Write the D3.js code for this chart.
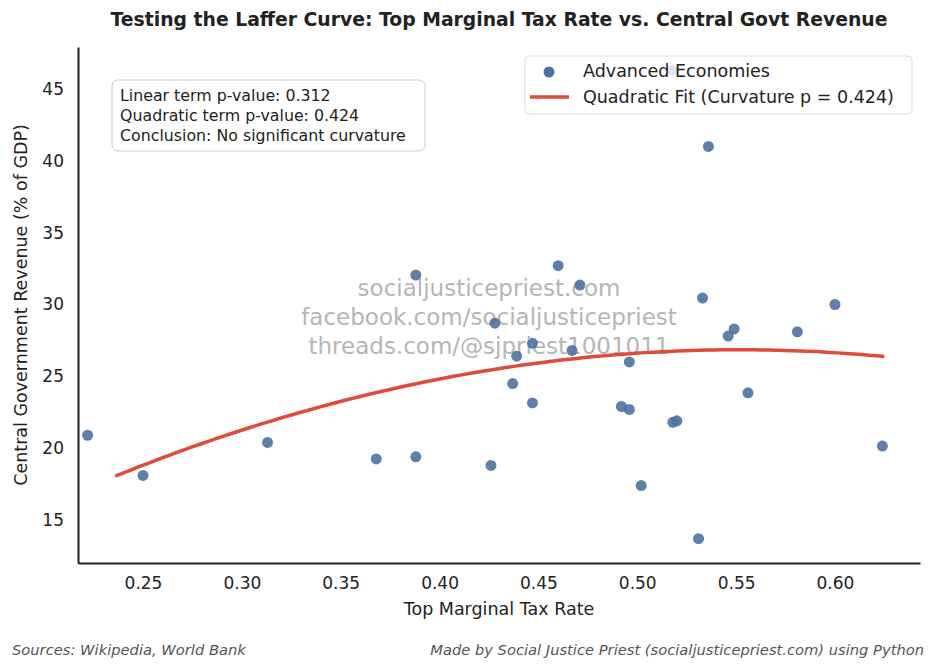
<!DOCTYPE html>
<html><head><meta charset="utf-8">
<script src="https://cdn.jsdelivr.net/npm/d3@7"></script>
<style>body{margin:0;background:#fff;font-family:"DejaVu Sans",sans-serif}</style>
</head><body>
<div id="chart"></div>
<script>
const taxRate = [0.222,0.250,0.313,0.368,0.388,0.388,0.426,0.428,0.437,0.439,0.447,0.447,0.460,0.467,0.471,0.492,0.496,0.496,0.502,0.518,0.520,0.518,0.531,0.533,0.536,0.546,0.549,0.556,0.581,0.600,0.624];
const revenue = [20.9,18.1,20.4,19.25,19.4,32.05,18.8,28.7,24.5,26.4,27.3,23.15,32.7,26.8,31.35,22.9,22.7,26.0,17.4,21.8,21.9,46.3,13.7,30.45,41.0,27.8,28.3,23.85,28.1,30.0,20.15];
const xTicks = [0.25,0.30,0.35,0.40,0.45,0.50,0.55,0.60];
const yTicks = [15,20,25,30,35,40,45];
// quadratic fit (vertex form)
const fitA = -88.1, fitH = 0.552, fitK = 26.85, fitRange = [0.236, 0.625];

const width = 936, height = 670;
const m = {left: 78, right: 920, top: 47, bottom: 563};
const svg = d3.select("#chart").append("svg").attr("width", width).attr("height", height);

const x = d3.scaleLinear().domain([0.25 - 65/1977, 0.25 + 777/1977]).range([m.left, m.right]);
const y = d3.scaleLinear().domain([15 - 43/14.37, 45 + 42/14.37]).range([m.bottom, m.top]);

svg.append("text").attr("x", 499).attr("y", 26).attr("text-anchor", "middle")
  .style("font-size", "18.8px").style("font-weight", "bold").attr("fill", "#222")
  .text("Testing the Laffer Curve: Top Marginal Tax Rate vs. Central Govt Revenue");

const xAxis = svg.append("g").attr("transform", `translate(0,${m.bottom})`)
  .call(d3.axisBottom(x).tickValues(xTicks).tickFormat(d3.format(".2f")).tickSize(0).tickPadding(14));
const yAxis = svg.append("g").attr("transform", `translate(${m.left},0)`)
  .call(d3.axisLeft(y).tickValues(yTicks).tickSize(0).tickPadding(14));
[xAxis, yAxis].forEach(a => {
  a.selectAll("text").style("font-size", "17px").attr("fill", "#222").style("font-family", "DejaVu Sans");
  a.select(".domain").attr("stroke", "#222").attr("stroke-width", 2);
});

svg.append("text").attr("x", (m.left + m.right)/2).attr("y", 615).attr("text-anchor", "middle")
  .style("font-size", "17.5px").attr("fill", "#222").text("Top Marginal Tax Rate");
svg.append("text").attr("transform", `translate(27,${(m.top + m.bottom)/2}) rotate(-90)`)
  .attr("text-anchor", "middle").style("font-size", "17.5px").attr("fill", "#222")
  .text("Central Government Revenue (% of GDP)");

// watermark
["socialjusticepriest.com","facebook.com/socialjusticepriest","threads.com/@sjpriest1001011"].forEach((t, i) => {
  svg.append("text").attr("x", 489).attr("y", 296 + i*29).attr("text-anchor", "middle")
    .style("font-size", "23px").attr("fill", "#b5b5b5").text(t);
});

// points
svg.append("g").selectAll("circle").data(taxRate).join("circle")
  .attr("cx", d => x(d)).attr("cy", (d, i) => y(revenue[i])).attr("r", 5.5)
  .attr("fill", "#4c72a0").attr("opacity", 0.9);

// fit curve
const fitX = d3.range(0, 101).map(i => fitRange[0] + (fitRange[1] - fitRange[0]) * i / 100);
svg.append("path").datum(fitX)
  .attr("d", d3.line().x(d => x(d)).y(d => y(fitA * (d - fitH) ** 2 + fitK)))
  .attr("fill", "none").attr("stroke", "#e04a3a").attr("stroke-width", 3.5);

// stats box
svg.append("rect").attr("x", 112).attr("y", 80).attr("width", 313).attr("height", 71).attr("rx", 6)
  .attr("fill", "#fff").attr("fill-opacity", 0.85).attr("stroke", "#ccc");
["Linear term p-value: 0.312","Quadratic term p-value: 0.424","Conclusion: No significant curvature"].forEach((t, i) => {
  svg.append("text").attr("x", 120).attr("y", 101 + i*20).style("font-size", "15.8px").attr("fill", "#222").text(t);
});

// legend
svg.append("rect").attr("x", 525).attr("y", 56).attr("width", 387).attr("height", 58).attr("rx", 4)
  .attr("fill", "#fff").attr("fill-opacity", 0.8).attr("stroke", "#ddd");
svg.append("circle").attr("cx", 549).attr("cy", 72).attr("r", 5.5).attr("fill", "#4c72a0");
svg.append("line").attr("x1", 530).attr("x2", 569).attr("y1", 97).attr("y2", 97)
  .attr("stroke", "#e04a3a").attr("stroke-width", 3.5);
svg.append("text").attr("x", 583).attr("y", 77).style("font-size", "17.5px").attr("fill", "#222").text("Advanced Economies");
svg.append("text").attr("x", 583).attr("y", 103).style("font-size", "17.5px").attr("fill", "#222").text("Quadratic Fit (Curvature p = 0.424)");

// footer
svg.append("text").attr("x", 12).attr("y", 655).style("font-size", "14.7px").style("font-style", "italic")
  .attr("fill", "#555").text("Sources: Wikipedia, World Bank");
svg.append("text").attr("x", 924).attr("y", 655).attr("text-anchor", "end").style("font-size", "14.7px")
  .style("font-style", "italic").attr("fill", "#555").text("Made by Social Justice Priest (socialjusticepriest.com) using Python");
</script>
</body></html>
